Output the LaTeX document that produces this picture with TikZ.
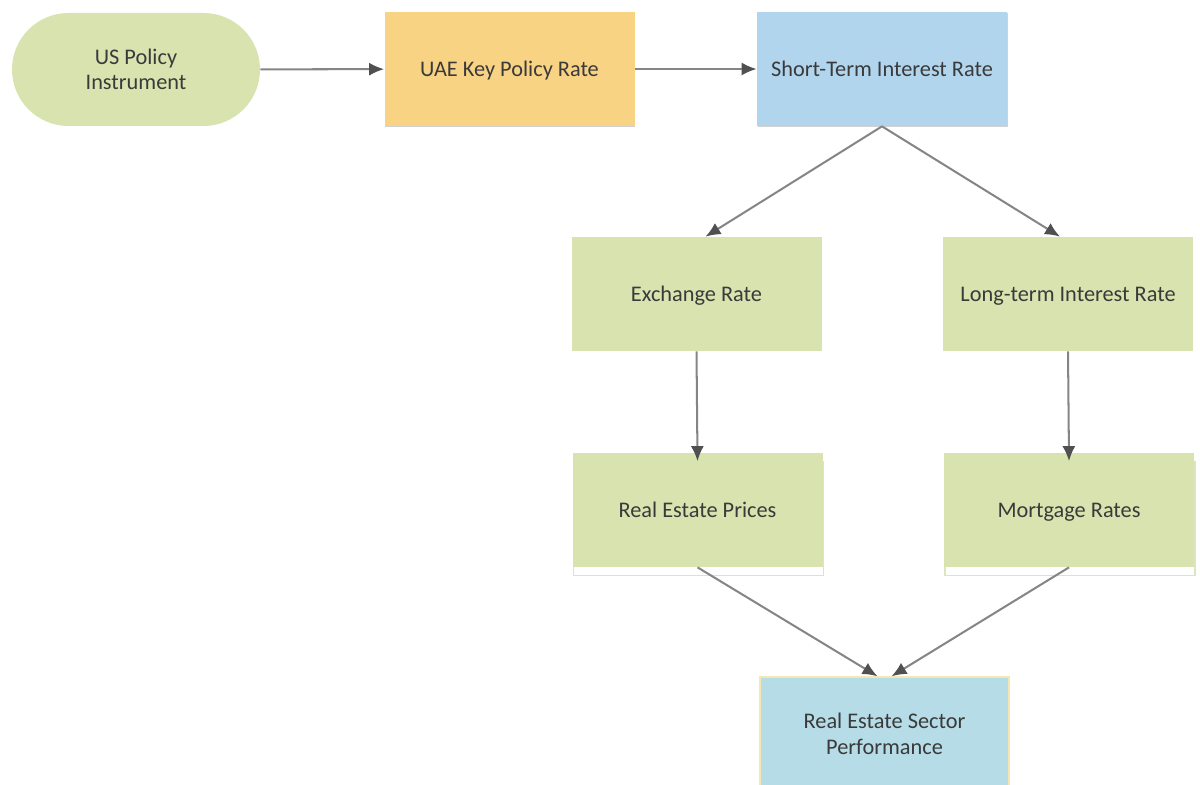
\documentclass[tikz,border=0pt]{standalone}
\usepackage{fontspec}
\setmainfont{Carlito}
\usepackage{xcolor}
\usetikzlibrary{arrows.meta,shapes.misc,shadows}

\definecolor{boxgreen}{HTML}{D8E3AF}
\definecolor{boxorange}{HTML}{F9D384}
\definecolor{boxblue}{HTML}{B2D5EE}
\definecolor{boxteal}{HTML}{B6DCE7}
\definecolor{edgeyellow}{HTML}{F5E7B4}
\definecolor{edgegreen}{HTML}{DCE6BC}
\definecolor{txtgrey}{HTML}{3A3A3A}
\definecolor{linegrey}{HTML}{858585}
\definecolor{tipgrey}{HTML}{505050}

\tikzset{
  every node/.style={text=txtgrey, font=\fontsize{12.7}{14.6}\selectfont, align=center},
  stage/.style={rectangle, minimum width=5cm, minimum height=2.28cm, inner sep=0pt},
  oneline/.style={text height=11.5pt, text depth=2.5pt},
  lifted/.style={drop shadow={shadow xshift=0.4pt, shadow yshift=-0.6pt, opacity=0.18, fill=black}},
  stacked/.style={copy shadow={shadow xshift=0.02cm, shadow yshift=-0.17cm, fill=white, draw=edgegreen, line width=0.8pt}},
  conn/.style={line width=1.15pt, draw=linegrey, -{Latex[length=3mm,width=2.6mm,color=tipgrey]}}
}

\begin{document}
\begin{tikzpicture}
  \useasboundingbox (0,0) rectangle (24,-15.68);
  \node[rounded rectangle, fill=boxgreen, minimum width=4.96cm, minimum height=2.26cm, inner sep=0pt] (us) at (2.72,-1.39) {US Policy\\Instrument};
  \node[stage, oneline, lifted, fill=boxorange] (uae) at (10.19,-1.38) {UAE Key Policy Rate};
  \node[stage, oneline, lifted, fill=boxblue] (st) at (17.64,-1.38) {Short-Term Interest Rate};
  \node[stage, oneline, fill=boxgreen] (ex) at (13.93,-5.88) {Exchange Rate};
  \node[stage, oneline, fill=boxgreen] (lt) at (21.36,-5.88) {Long-term Interest Rate};
  \node[stage, oneline, stacked, fill=boxgreen] (rp) at (13.95,-10.2) {Real Estate Prices};
  \node[stage, oneline, stacked, fill=boxgreen] (mr) at (21.38,-10.2) {Mortgage Rates};
  \node[stage, fill=boxteal, draw=edgeyellow, line width=0.8pt, minimum width=4.98cm] (rs) at (17.69,-14.68) {Real Estate Sector\\Performance};
  \draw[conn] (us) -- (uae);
  \draw[conn] (uae) -- (st);
  \draw[conn] (st.south) -- ([xshift=0.18cm]ex.north);
  \draw[conn] (st.south) -- ([xshift=-0.16cm]lt.north);
  \draw[conn] (ex.south) -- ([yshift=-0.17cm]rp.north);
  \draw[conn] (lt.south) -- ([yshift=-0.17cm]mr.north);
  \draw[conn] (rp.south) -- ([xshift=-0.14cm]rs.north);
  \draw[conn] (mr.south) -- ([xshift=0.14cm]rs.north);
\end{tikzpicture}
\end{document}
